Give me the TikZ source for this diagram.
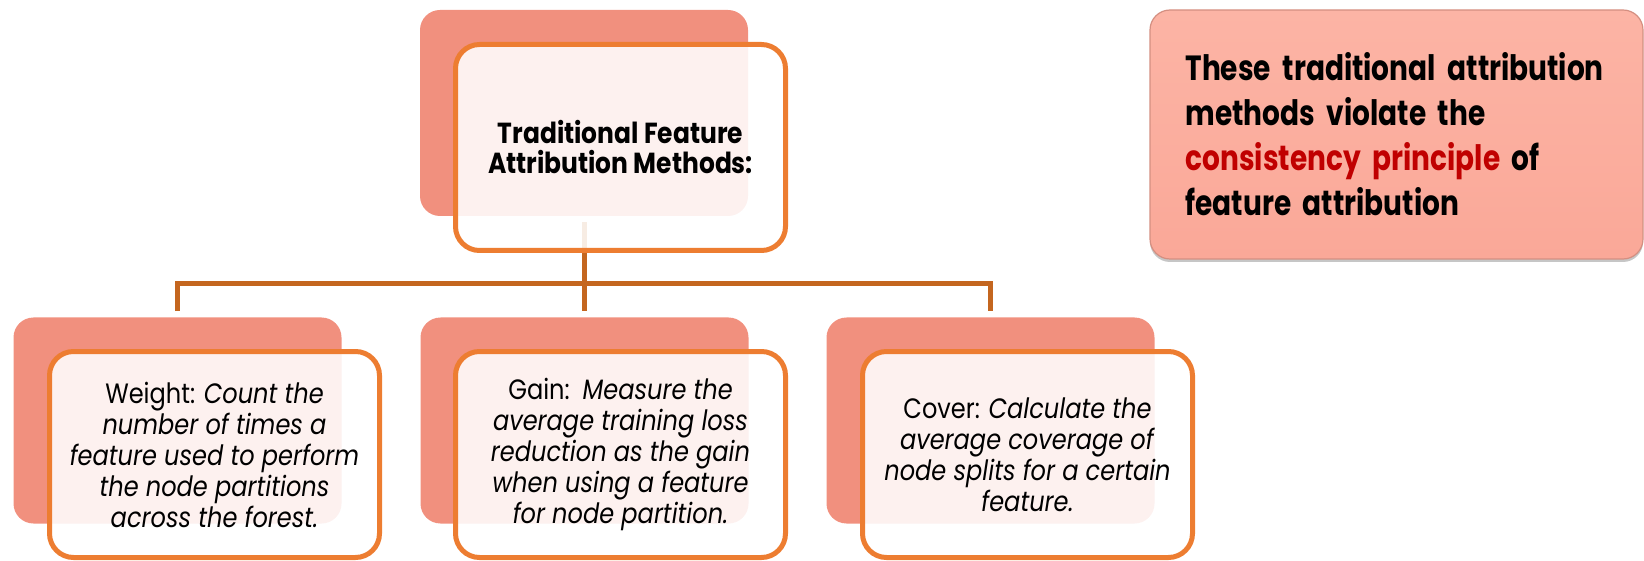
\documentclass[tikz,border=0pt]{standalone}
\usepackage{fontspec}
\setmainfont{Poppins}[FakeStretch=0.86]
\newfontfamily\notefont{Poppins}[FakeStretch=0.8]
\usepackage{xcolor}
\usetikzlibrary{positioning, shadows}
\definecolor{salmon}{HTML}{F1907E}
\definecolor{accent}{HTML}{ED7D31}
\definecolor{linkcol}{HTML}{C4661F}
\definecolor{notetop}{HTML}{FCB4A5}
\definecolor{notebot}{HTML}{FAA898}
\definecolor{darkred}{HTML}{C00000}

\begin{document}
\begin{tikzpicture}[x=0.5pt,y=-0.5pt,
  back/.style={fill=salmon, rounded corners=10pt, minimum width=164pt, minimum height=103pt},
  front/.style={draw=accent, line width=2.5pt, fill=white, fill opacity=0.88, text opacity=1,
    rounded corners=12pt, minimum width=165pt, minimum height=103pt, align=center,
    font=\fontsize{14}{15.5}\selectfont},
  link/.style={draw=linkcol, line width=2.5pt},
  notebox/.style={top color=notetop, bottom color=notebot, draw=notebot!85!black, line width=0.6pt,
    rounded corners=10pt, minimum width=246.5pt, minimum height=124.5pt, text width=211pt,
    align=left, font=\notefont\bfseries\fontsize{17.5}{22.5}\selectfont,
    drop shadow={shadow xshift=0pt, shadow yshift=-1.5pt, opacity=0.45}}]
  \useasboundingbox (0,0) rectangle (1644,561);
  % Back plates
  \node[back] (titleback) at (584,113) {};
  \node[back] (weightback) at (177.5,420.5) {};
  \node[back] (gainback) at (584.5,420.5) {};
  \node[back] (coverback) at (990.5,420.5) {};
  % Connectors
  \coordinate (bus) at (0,284);
  \draw[link] ([yshift=-3pt]titleback.south) -- (titleback.south |- bus);
  \draw[link] ([yshift=3pt]weightback.north) |- (coverback.north |- bus) -- ([yshift=3pt]coverback.north);
  \draw[link] (gainback.north |- bus) -- ([yshift=3pt]gainback.north);
  % Front boxes
  \node[front, font=\bfseries\fontsize{14.5}{15}\selectfont] (title) at (620.5,147.5)
    {Traditional Feature\\Attribution Methods:};
  \node[front] (weight) at (214.5,454.5)
    {Weight: \textit{Count the}\\\textit{number of times a}\\\textit{feature used to perform}\\\textit{the node partitions}\\\textit{across the forest.}};
  \node[front] (gain) at (620.5,454.5)
    {Gain:\ \ \textit{Measure the}\\\textit{average training loss}\\\textit{reduction as the gain}\\\textit{when using a feature}\\\textit{for node partition.}};
  \node[front] (cover) at (1027.5,454.5)
    {Cover: \textit{Calculate the}\\\textit{average coverage of}\\\textit{node splits for a certain}\\\textit{feature.}};
  % Note
  \node[notebox] (note) at (1396.5,134.5)
    {These traditional attribution\\methods violate the\\\textcolor{darkred}{consistency principle} of\\feature attribution};
\end{tikzpicture}
\end{document}
